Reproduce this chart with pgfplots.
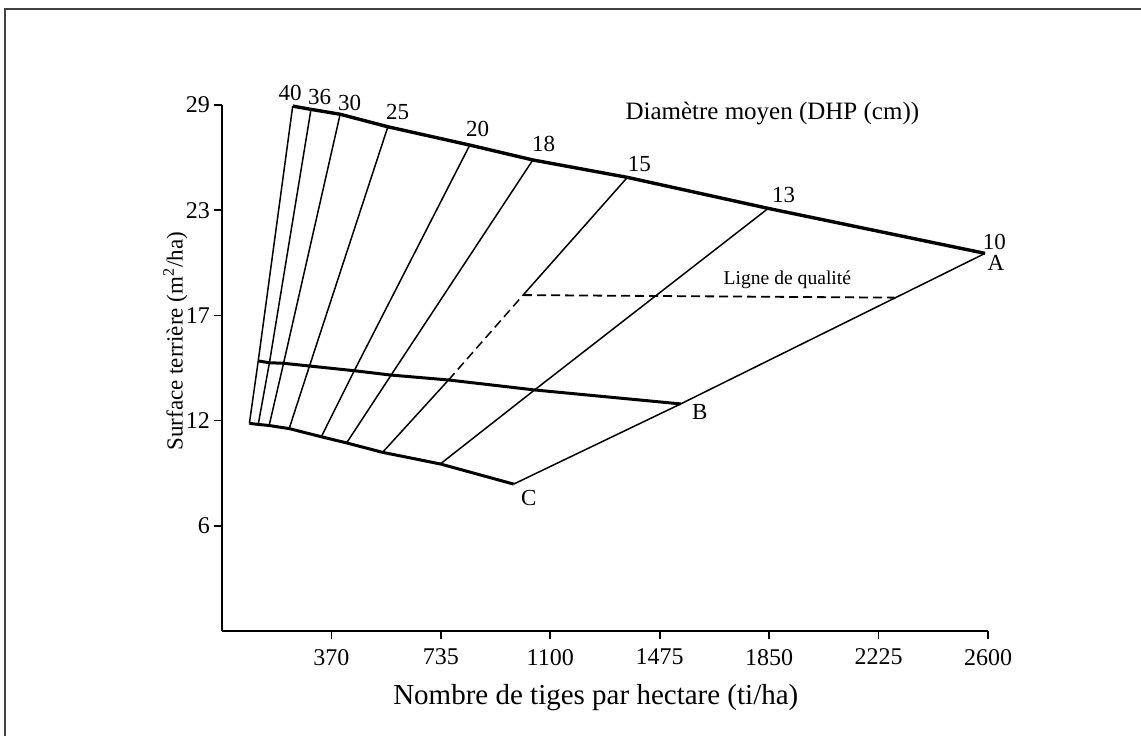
\documentclass[border=0pt]{standalone}
\usepackage{fontspec}
\setmainfont{Liberation Serif}
\usepackage{pgfplots}
\pgfplotsset{compat=1.18}
\begin{document}
\begin{tikzpicture}
\path[use as bounding box] (0,0) rectangle (570.5pt,368pt);
\draw[line width=1pt, black!75] (2.5pt,0) -- (2.5pt,363.5pt) -- (570.5pt,363.5pt);
\begin{axis}[
  at={(111pt,52.5pt)}, anchor=south west,
  scale only axis, width=383pt, height=263pt,
  xmin=0, xmax=2600, ymin=0, ymax=29,
  axis x line=bottom, axis y line=left,
  axis line style={line width=1pt, -},
  xtick={371.43,742.86,1114.29,1485.71,1857.14,2228.57,2600},
  xticklabels={370,735,1100,1475,1850,2225,2600},
  ytick={5.8,11.6,17.4,23.2,29},
  yticklabels={6,12,17,23,29},
  tick align=outside, major tick length=4pt,
  tick style={line width=0.8pt, black},
  ticklabel style={font=\fontsize{12}{14}\selectfont},
  xticklabel style={yshift=-1.5pt},
  yticklabel style={xshift=1.5pt},
  xlabel={Nombre de tiges par hectare (ti/ha)},
  ylabel={Surface terrière (m\textsuperscript{2}/ha)},
  xlabel style={at={(axis description cs:0.488,-0.127)}, anchor=center, font=\fontsize{14.5}{16}\selectfont},
  ylabel style={at={(axis description cs:-0.061,0.551)}, anchor=center, font=\fontsize{11.5}{13}\selectfont},
  clip=false,
  every axis plot/.append style={black, no marks},
]
% Thick A line (maximum density)
\addplot[line width=1.7pt] coordinates {(240,28.94) (302,28.76) (401,28.49) (563,27.80) (841,26.79) (1055,25.97) (1376,25.01) (1854,23.30) (2590,20.82)};
% Thick B line
\addplot[line width=1.5pt] coordinates {(123,14.89) (161,14.79) (209,14.76) (297,14.61) (449,14.35) (574,14.11) (769,13.84) (1061,13.29) (1557,12.52)};
% Thick C line
\addplot[line width=1.5pt] coordinates {(93,11.45) (123,11.39) (160,11.33) (228,11.16) (337,10.71) (423,10.37) (545,9.85) (741,9.21) (990,8.10)};
% Diameter lines
\addplot[line width=0.75pt] coordinates {(93,11.45) (123,14.89) (240,28.94)};
\addplot[line width=0.75pt] coordinates {(123,11.39) (161,14.79) (302,28.76)};
\addplot[line width=0.75pt] coordinates {(160,11.33) (209,14.76) (401,28.49)};
\addplot[line width=0.75pt] coordinates {(228,11.16) (297,14.61) (563,27.80)};
\addplot[line width=0.75pt] coordinates {(337,10.71) (449,14.35) (841,26.79)};
\addplot[line width=0.75pt] coordinates {(423,10.37) (574,14.11) (1055,25.97)};
\addplot[line width=0.75pt] coordinates {(545,9.85) (769,13.84)};
\addplot[line width=0.75pt, dash pattern=on 4.5pt off 2.5pt] coordinates {(769,13.84) (1022,18.52)};
\addplot[line width=0.75pt] coordinates {(1022,18.52) (1376,25.01)};
\addplot[line width=0.75pt] coordinates {(741,9.21) (1061,13.29) (1854,23.30)};
\addplot[line width=0.75pt] coordinates {(990,8.10) (1557,12.52) (2590,20.82)};
% Quality line
\addplot[line width=0.9pt, dash pattern=on 4.5pt off 2.5pt] coordinates {(1022,18.52) (2282,18.38)};
% Labels
\begin{scope}[every node/.style={font=\fontsize{11.5}{13}\selectfont, inner sep=0pt}]
\node at (axis cs:231,29.68) {40};
\node at (axis cs:331,29.42) {36};
\node at (axis cs:433,29.09) {30};
\node at (axis cs:596,28.63) {25};
\node at (axis cs:868,27.66) {20};
\node at (axis cs:1092,26.85) {18};
\node at (axis cs:1417,25.75) {15};
\node at (axis cs:1906,24.04) {13};
\node at (axis cs:2622,21.46) {10};
\node at (axis cs:2627,20.27) {A};
\node at (axis cs:1622,12.09) {B};
\node at (axis cs:1041,7.32) {C};
\end{scope}
\node[font=\fontsize{12.5}{15}\selectfont, inner sep=0pt] at (axis cs:1868,28.54) {Diamètre moyen (DHP (cm))};
\node[font=\fontsize{9.8}{11}\selectfont, inner sep=0pt] at (axis cs:1919,19.35) {Ligne de qualité};
\end{axis}
\end{tikzpicture}
\end{document}
